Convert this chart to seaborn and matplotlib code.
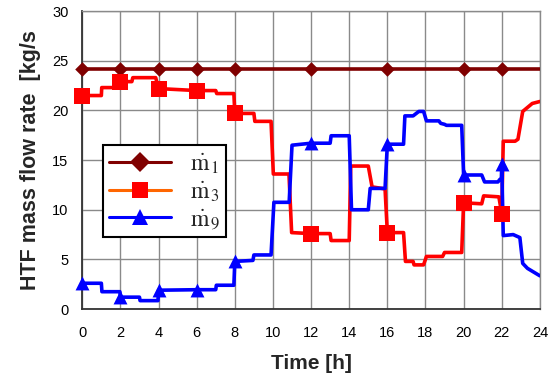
import numpy as np
import pandas as pd
import matplotlib
matplotlib.use("Agg")
import matplotlib.pyplot as plt
from matplotlib.lines import Line2D
import seaborn as sns

# Hours at which the series carry markers
marker_hours = [0, 2, 4, 6, 8, 12, 16, 20, 22]

# m_1 : constant flow
t1 = [0, 2, 4, 6, 8, 12, 16, 20, 22, 24]
m1 = [24.2, 24.2, 24.2, 24.2, 24.2, 24.2, 24.2, 24.2, 24.2, 24.2]

# m_3 : stepwise profile
t3 = [0.0, 1.0, 1.02, 1.9, 2.0, 2.6, 2.65, 3.85, 4.0, 6.0, 7.0, 7.05, 7.95, 8.0,
      9.0, 9.05, 9.9, 10.02, 10.84, 10.98, 12.0, 13.0, 13.05, 14.0, 14.08, 15.0,
      15.2, 15.88, 16.0, 16.85, 16.95, 17.35, 17.4, 17.9, 18.05, 18.9, 19.0, 19.9,
      20.0, 20.95, 21.05, 21.85, 22.0, 22.08, 22.7, 22.85, 23.1, 23.6, 24.0]
m3 = [21.5, 21.5, 22.3, 22.3, 22.9, 22.9, 23.3, 23.3, 22.2, 22.0, 22.0, 21.7, 21.7,
      19.7, 19.7, 18.9, 18.9, 13.6, 13.6, 7.7, 7.6, 7.6, 6.9, 6.9, 14.4, 14.4, 12.3,
      12.1, 7.7, 7.7, 4.8, 4.8, 4.45, 4.45, 5.3, 5.3, 5.7, 5.7, 10.7, 10.6, 11.4,
      11.3, 9.6, 16.9, 16.9, 17.1, 19.9, 20.7, 20.9]

# m_9 : stepwise profile
t9 = [0.0, 1.0, 1.03, 1.97, 2.0, 3.0, 3.03, 3.97, 4.0, 6.0, 7.0, 7.03, 7.95, 8.0,
      8.95, 9.0, 9.9, 10.05, 10.85, 11.0, 12.0, 13.0, 13.05, 14.0, 14.12, 15.0,
      15.1, 15.88, 16.0, 16.85, 16.92, 17.35, 17.65, 17.9, 18.05, 18.7, 18.8, 19.0,
      19.1, 19.9, 20.0, 20.95, 21.1, 21.8, 21.9, 21.98, 22.0, 22.08, 22.6, 22.95,
      23.1, 23.35, 24.0]
m9 = [2.6, 2.6, 1.75, 1.75, 1.2, 1.2, 0.85, 0.85, 1.9, 1.95, 1.95, 2.4, 2.4, 4.8,
      4.9, 5.45, 5.45, 10.75, 10.75, 16.5, 16.7, 16.7, 17.45, 17.45, 10.0, 10.0,
      12.15, 12.15, 16.6, 16.6, 19.45, 19.45, 19.9, 19.9, 18.95, 18.95, 18.7, 18.6,
      18.5, 18.5, 13.5, 13.5, 12.8, 12.8, 13.05, 13.05, 14.6, 7.4, 7.5, 7.2, 4.6,
      4.1, 3.35]

labels = [r"$\dot{\mathrm{m}}_{\,1}$", r"$\dot{\mathrm{m}}_{\,3}$",
          r"$\dot{\mathrm{m}}_{\,9}$"]
colors = ["#800000", "#ff0000", "#0000ff"]
legend_line_colors = ["#800000", "#ff6600", "#0000ff"]
markers = ["D", "s", "^"]
marker_area = [55, 120, 100]

sns.set_style("white")
plt.rcParams["font.family"] = ["Liberation Sans", "DejaVu Sans"]
plt.rcParams["mathtext.fontset"] = "stix"

fig = plt.figure(figsize=(5.56, 3.83), dpi=100)
ax = fig.add_axes([0.148, 0.193, 0.823, 0.778])

series = [(t1, m1), (t3, m3), (t9, m9)]

# lines first
for (t, v), c in zip(series, colors):
    df = pd.DataFrame({"t": t, "v": v})
    sns.lineplot(data=df, x="t", y="v", ax=ax, color=c, lw=2.6,
                 estimator=None, sort=False, zorder=3)

# markers on top
for (t, v), c, mk, s in zip(series, colors, markers, marker_area):
    df = pd.DataFrame({"t": t, "v": v})
    sel = df[np.isin(df["t"], marker_hours)]
    sns.scatterplot(data=sel, x="t", y="v", ax=ax, color=c, marker=mk, s=s,
                    linewidth=0, zorder=4, clip_on=False)

ax.set_xlim(0, 24)
ax.set_ylim(0, 30)
ax.set_xticks(range(0, 25, 2))
ax.set_yticks(range(0, 31, 5))
ax.grid(True, color="#8a8a8a", lw=1.0)
ax.set_axisbelow(True)

for side in ["top", "right"]:
    ax.spines[side].set_color("#8a8a8a")
    ax.spines[side].set_linewidth(1.0)
for side in ["left", "bottom"]:
    ax.spines[side].set_color("#333333")
    ax.spines[side].set_linewidth(1.3)

ax.tick_params(axis="both", which="major", labelsize=10.5, colors="#333333",
               labelcolor="black", direction="inout", length=6, width=1.0)
ax.tick_params(axis="y", pad=7)
ax.tick_params(axis="x", pad=9)

ax.set_xlabel("Time [h]", fontsize=15, fontweight="bold", labelpad=10)
ax.set_ylabel("HTF mass flow rate  [kg/s", fontsize=15.5, fontweight="bold",
              labelpad=8)

handles = [Line2D([0], [0], color=lc, lw=2.2, marker=mk, markersize=ms,
                  markerfacecolor=c, markeredgecolor=c, markeredgewidth=0)
           for lc, c, mk, ms in zip(legend_line_colors, colors, markers,
                                     [10, 11, 11])]
leg = ax.legend(handles, labels, loc="lower left",
                bbox_to_anchor=(0.046, 0.242), frameon=True, fancybox=False,
                framealpha=1, edgecolor="black",
                prop={"family": "serif", "size": 17},
                handlelength=2.6, handletextpad=0.8, labelspacing=0.15,
                borderpad=0.25, borderaxespad=0)
leg.get_frame().set_linewidth(1.5)

fig.savefig("out.png", dpi=100)
